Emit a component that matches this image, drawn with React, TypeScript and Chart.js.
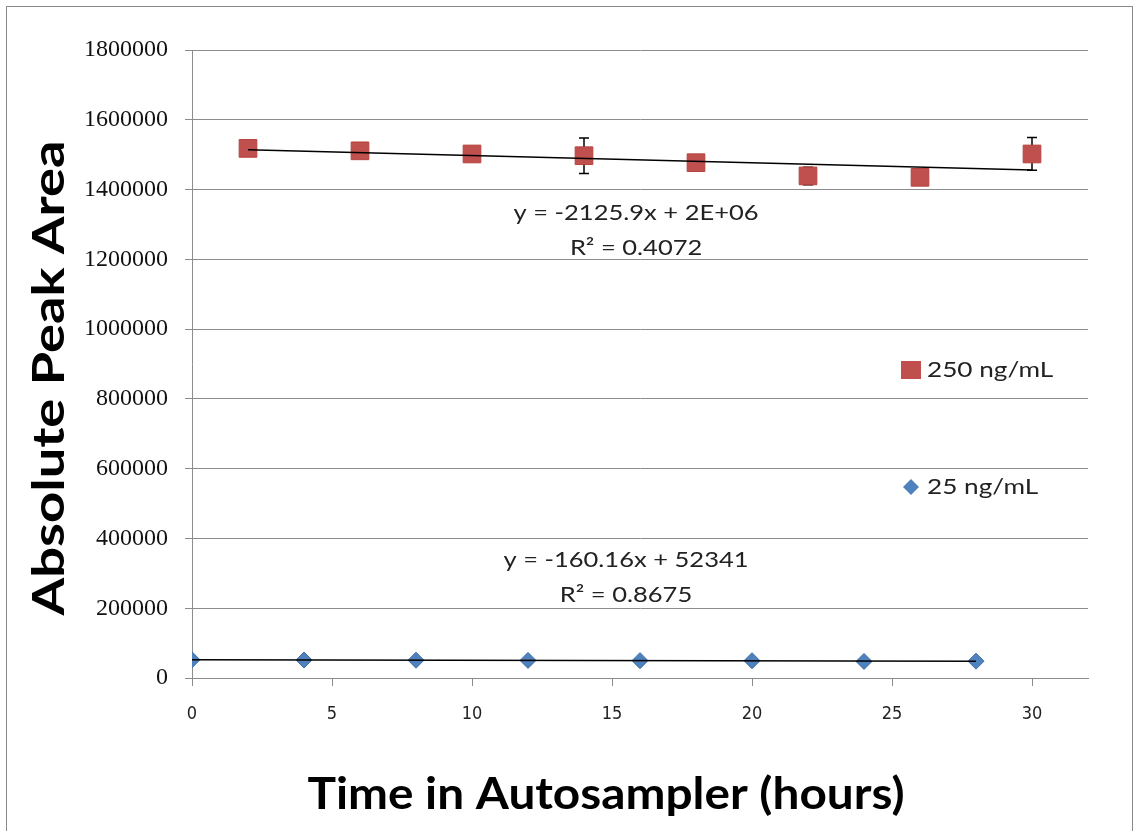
import React, { useEffect, useRef } from "react";
import { Chart, registerables } from "chart.js";

Chart.register(...registerables);

// ---- data ----
const hours25 = [0, 4, 8, 12, 16, 20, 24, 28];
const area25 = [52300, 51500, 51000, 50500, 49800, 49500, 47500, 48300];

const hours250 = [2, 6, 10, 14, 18, 22, 26, 30];
const area250 = [1518000, 1511000, 1502000, 1497000, 1477000, 1439000, 1435000, 1502000];
const err250 = [6000, 6000, 6000, 51000, 6000, 25000, 6000, 47000];

const label250 = "250 ng/mL";
const label25 = "25 ng/mL";
const eq250 = ["y = -2125.9x + 2E+06", "R\u00B2 = 0.4072"];
const eq25 = ["y = -160.16x + 52341", "R\u00B2 = 0.8675"];

const xTitle = "Time in Autosampler (hours)";
const yTitle = "Absolute Peak Area";

const yTickMin = 0;
const yTickMax = 1800000;
const yTickStep = 200000;
const xTickMin = 0;
const xTickMax = 32;
const xTickStep = 5;

const W = 1139;
const H = 831;
const RED = "#C0504D";
const BLUE = "#4F81BD";
const GRID = "#8c8c8c";
const SANS = "Lato, 'Open Sans', sans-serif";
const STRETCH = 1.16;

function linFit(xs: number[], ys: number[]) {
  const n = xs.length;
  const mx = xs.reduce((a, b) => a + b, 0) / n;
  const my = ys.reduce((a, b) => a + b, 0) / n;
  let sxy = 0;
  let sxx = 0;
  for (let i = 0; i < n; i++) {
    sxy += (xs[i] - mx) * (ys[i] - my);
    sxx += (xs[i] - mx) * (xs[i] - mx);
  }
  const m = sxy / sxx;
  return { m, b: my - m * mx };
}

// draw text horizontally stretched by factor k
function stretchText(c: CanvasRenderingContext2D, text: string, x: number, y: number, k: number, align: "left" | "center") {
  c.save();
  c.translate(x, y);
  c.scale(k, 1);
  c.textAlign = align;
  c.fillText(text, 0, 0);
  c.restore();
}

// draw text fitted to a given width
function fitText(c: CanvasRenderingContext2D, text: string, x: number, y: number, width: number, rot: number) {
  c.save();
  c.translate(x, y);
  c.rotate(rot);
  const w = c.measureText(text).width;
  c.scale(width / w, 1);
  c.textAlign = "center";
  c.fillText(text, 0, 0);
  c.restore();
}

export default function App() {
  const ref = useRef<HTMLCanvasElement>(null);

  useEffect(() => {
    const canvas = ref.current!;
    const f250 = linFit(hours250, area250);
    const f25 = linFit(hours25, area25);
    const x250a = hours250[0];
    const x250b = hours250[hours250.length - 1];
    const x25a = hours25[0];
    const x25b = hours25[hours25.length - 1];

    const decorPlugin = {
      id: "decor",
      beforeDraw(chart: any) {
        const c = chart.ctx;
        c.save();
        c.fillStyle = "#fff";
        c.fillRect(0, 0, W, H);
        c.restore();
      },
      beforeDatasetsDraw(chart: any) {
        const c = chart.ctx;
        const xs = chart.scales.x;
        const ys = chart.scales.y;
        // error bars (drawn beneath the markers)
        c.save();
        c.strokeStyle = "#000";
        c.lineWidth = 1.5;
        hours250.forEach((hx, i) => {
          const px = xs.getPixelForValue(hx);
          const pt = ys.getPixelForValue(area250[i] + err250[i]);
          const pb = ys.getPixelForValue(area250[i] - err250[i]);
          c.beginPath();
          c.moveTo(px, pt);
          c.lineTo(px, pb);
          c.moveTo(px - 5, pt);
          c.lineTo(px + 5, pt);
          c.moveTo(px - 5, pb);
          c.lineTo(px + 5, pb);
          c.stroke();
        });
        c.restore();
      },
      afterDraw(chart: any) {
        const c = chart.ctx;
        const a = chart.chartArea;
        const xs = chart.scales.x;
        const ys = chart.scales.y;
        c.save();
        // outer border
        c.strokeStyle = "#8a8a8a";
        c.lineWidth = 1;
        c.strokeRect(6.5, 6.5, W - 13, H + 10);

        // equations
        c.fillStyle = "#222";
        c.font = `22px ${SANS}`;
        c.textBaseline = "middle";
        const e1x = xs.getPixelForValue(15.86);
        const e1y = ys.getPixelForValue(1332000);
        stretchText(c, eq250[0], e1x, e1y, STRETCH, "center");
        stretchText(c, eq250[1], e1x, e1y + 35, STRETCH, "center");
        const e2x = xs.getPixelForValue(15.5);
        const e2y = ys.getPixelForValue(338000);
        stretchText(c, eq25[0], e2x, e2y, STRETCH, "center");
        stretchText(c, eq25[1], e2x, e2y + 35, STRETCH, "center");

        // legend
        const lx = a.right - 177;
        const ly1 = a.top + 320;
        const ly2 = a.top + 437;
        c.fillStyle = RED;
        c.fillRect(lx - 10, ly1 - 9, 20, 18);
        c.fillStyle = BLUE;
        c.beginPath();
        c.moveTo(lx, ly2 - 8);
        c.lineTo(lx + 8, ly2);
        c.lineTo(lx, ly2 + 8);
        c.lineTo(lx - 8, ly2);
        c.closePath();
        c.fill();
        c.fillStyle = "#222";
        c.font = `22px ${SANS}`;
        stretchText(c, label250, lx + 16, ly1, 1.19, "left");
        stretchText(c, label25, lx + 16, ly2, 1.19, "left");

        // axis titles
        c.fillStyle = "#000";
        c.font = `bold 44px ${SANS}`;
        fitText(c, xTitle, 606, a.bottom + 117, 597, 0);
        fitText(c, yTitle, a.left - 142, 378, 475, -Math.PI / 2);
        c.restore();
      },
    };

    const chart = new Chart(canvas, {
      type: "scatter",
      data: {
        datasets: [
          {
            label: "trend250",
            data: [
              { x: x250a, y: f250.m * x250a + f250.b },
              { x: x250b, y: f250.m * x250b + f250.b },
            ],
            showLine: true,
            borderColor: "#000",
            borderWidth: 1.5,
            pointRadius: 0,
            order: 0,
          },
          {
            label: "trend25",
            data: [
              { x: x25a, y: f25.m * x25a + f25.b },
              { x: x25b, y: f25.m * x25b + f25.b },
            ],
            showLine: true,
            borderColor: "#000",
            borderWidth: 1.5,
            pointRadius: 0,
            order: 0,
          },
          {
            label: label250,
            data: hours250.map((x, i) => ({ x, y: area250[i] })),
            pointStyle: "rect",
            pointRadius: 12.5,
            backgroundColor: RED,
            borderColor: "#B4433F",
            borderWidth: 1,
            order: 2,
          },
          {
            label: label25,
            data: hours25.map((x, i) => ({ x, y: area25[i] })),
            pointStyle: "rectRot",
            pointRadius: 8,
            backgroundColor: BLUE,
            borderColor: "#3F6FA8",
            borderWidth: 1,
            order: 2,
          },
        ],
      },
      options: {
        responsive: false,
        animation: false,
        devicePixelRatio: 1,
        layout: { padding: { top: 50, right: 51, left: 0, bottom: 0 } },
        plugins: {
          legend: { display: false },
          tooltip: { enabled: false },
        },
        scales: {
          x: {
            type: "linear",
            min: xTickMin,
            max: xTickMax,
            afterFit: (s: any) => {
              s.height = 153;
            },
            ticks: {
              stepSize: xTickStep,
              includeBounds: false,
              maxRotation: 0,
              padding: 18,
              color: "#222",
              font: { family: "'Liberation Sans Narrow', 'DejaVu Sans Condensed', sans-serif", size: 18 },
            },
            grid: { drawOnChartArea: false, color: GRID, tickLength: 8 },
            border: { color: GRID, width: 1 },
          },
          y: {
            type: "linear",
            min: yTickMin,
            max: yTickMax,
            afterFit: (s: any) => {
              s.width = 192;
            },
            ticks: {
              stepSize: yTickStep,
              padding: 17,
              color: "#111",
              font: { family: "'Liberation Serif', 'Times New Roman', serif", size: 24 },
              callback: (v: any) => String(v),
            },
            grid: { color: GRID, tickLength: 7 },
            border: { color: GRID, width: 1 },
          },
        },
      },
      plugins: [decorPlugin],
    } as any);

    return () => chart.destroy();
  }, []);

  return (
    <div style={{ position: "absolute", left: 0, top: 0, width: W, height: H, background: "#fff" }}>
      <canvas ref={ref} width={W} height={H} style={{ width: W, height: H, display: "block" }} />
    </div>
  );
}
